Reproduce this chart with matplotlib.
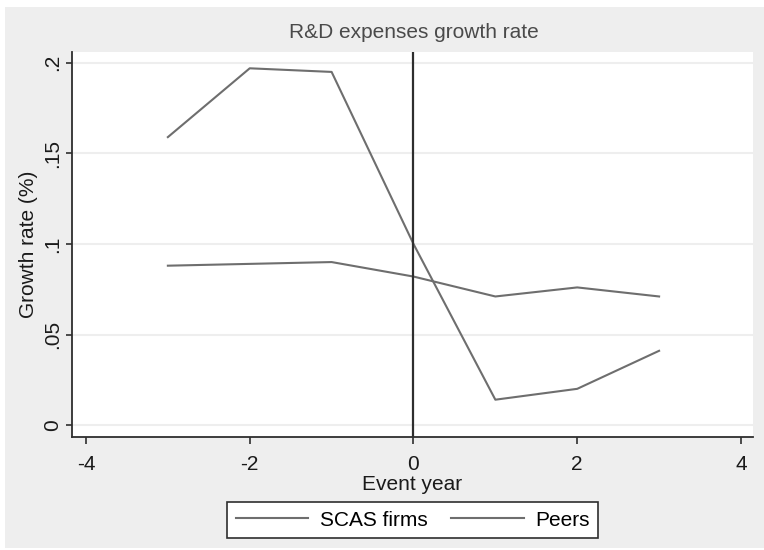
"""R&D expenses growth rate around the event year (SCAS firms vs peers)."""
import matplotlib
matplotlib.use("Agg")
import matplotlib.pyplot as plt
from matplotlib.patches import Rectangle

plt.rcParams["font.family"] = ["Liberation Sans", "DejaVu Sans"]

# data
event_year = [-3, -2, -1, 0, 1, 2, 3]
scas_firms = [0.159, 0.197, 0.195, 0.100, 0.014, 0.020, 0.041]
peers = [0.088, 0.089, 0.090, 0.082, 0.071, 0.076, 0.071]

x_ticks = [-4, -2, 0, 2, 4]
y_ticks = [0, 0.05, 0.1, 0.15, 0.2]
y_tick_labels = ["0", ".05", ".1", ".15", ".2"]

W, H = 764, 550
BG = "#eeeeee"
LINE = "#6e6e6e"
DARK = "#2e2e2e"
FS = 15


def main():
    fig = plt.figure(figsize=(W / 100, H / 100), dpi=100, facecolor="white")
    # gray outer region with a thin white border (Stata style)
    fig.patches.append(Rectangle((5 / W, 2 / H), 1 - 5 / W, 1 - 9 / H,
                                 transform=fig.transFigure, facecolor=BG,
                                 edgecolor="none", zorder=-10))

    ax = fig.add_axes([72 / W, 1 - 437 / H, (753 - 72) / W, (437 - 52) / H])
    ax.set_zorder(1)
    ax.set_facecolor("white")

    ax.plot(event_year, scas_firms, color=LINE, lw=1.5, label="SCAS firms", zorder=3)
    ax.plot(event_year, peers, color=LINE, lw=1.5, label="Peers", zorder=3)
    ax.axvline(0, color=DARK, lw=1.6, zorder=4)

    ax.set_xlim(-4.171, 4.147)
    ax.set_ylim(-0.0066, 0.206)
    ax.set_xticks(x_ticks)
    ax.set_xticklabels([str(t) for t in x_ticks])
    ax.set_yticks(y_ticks)
    ax.set_yticklabels(y_tick_labels, rotation=90, va="center")
    ax.grid(axis="y", color="#eeeeee", lw=1.5, zorder=1)
    ax.set_axisbelow(True)

    for side in ("top", "right"):
        ax.spines[side].set_visible(False)
    for side in ("left", "bottom"):
        ax.spines[side].set_color(DARK)
        ax.spines[side].set_linewidth(1.3)
    ax.tick_params(axis="x", length=5, width=1.2, color=DARK, pad=8,
                   labelsize=FS, labelcolor="#1a1a1a")
    ax.tick_params(axis="y", length=4, width=1.2, color=DARK, pad=3,
                   labelsize=FS, labelcolor="#1a1a1a")

    ax.set_xlabel("Event year", fontsize=FS, color="#1a1a1a", labelpad=1)
    ax.set_ylabel("Growth rate (%)", fontsize=FS, color="#1a1a1a", labelpad=4)
    fig.text(414 / W, 1 - 32 / H, "R&D expenses growth rate", fontsize=FS,
             color="#4a4a4a", ha="center", va="center")

    leg = fig.legend(loc="center", bbox_to_anchor=(412.5 / W, 1 - 520 / H), ncol=2,
                     fontsize=FS, handlelength=3.5, columnspacing=1.1,
                     handletextpad=0.55, borderpad=0.4, fancybox=False,
                     framealpha=1, facecolor="white", edgecolor=DARK)
    leg.get_frame().set_linewidth(1.2)

    fig.savefig("out.png", dpi=100, facecolor=fig.get_facecolor())


if __name__ == "__main__":
    main()
